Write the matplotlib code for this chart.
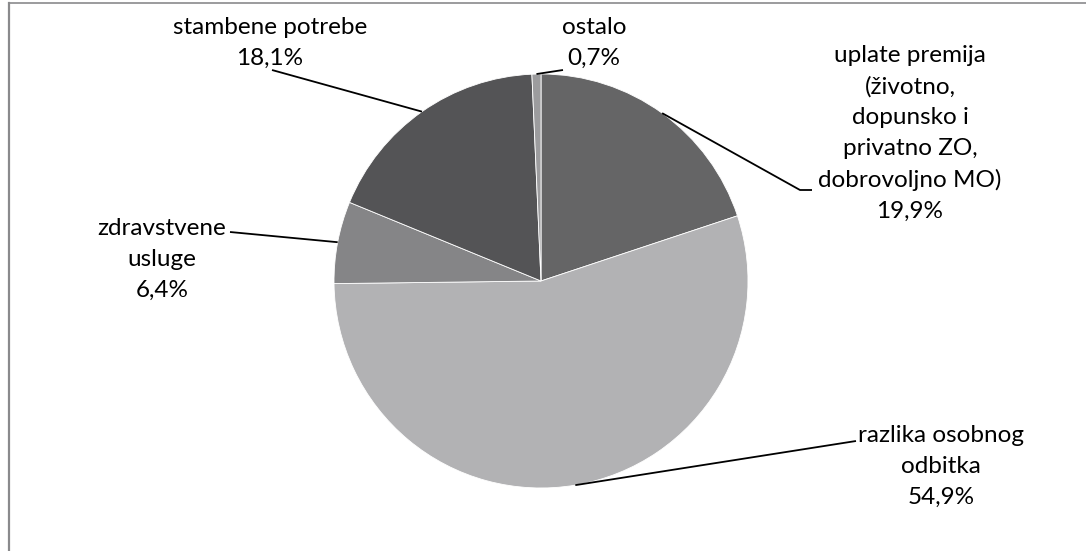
import numpy as np
import matplotlib
matplotlib.use("Agg")
import matplotlib.pyplot as plt
from matplotlib.lines import Line2D

# Data
categories = ["uplate premija\n(životno,\ndopunsko i\nprivatno ZO,\ndobrovoljno MO)",
              "razlika osobnog\nodbitka",
              "zdravstvene\nusluge",
              "stambene potrebe",
              "ostalo"]
values = [19.9, 54.9, 6.4, 18.1, 0.7]
pct_labels = ["19,9%", "54,9%", "6,4%", "18,1%", "0,7%"]
colors = ["#656566", "#b2b2b4", "#858587", "#545456", "#9c9c9e"]

W, H = 1086, 551
fig = plt.figure(figsize=(W / 100, H / 100), dpi=100)
ax = fig.add_axes([0, 0, 1, 1])

cx, cy, R = 541, H - 281, 207
wedges, _ = ax.pie(values, colors=colors, startangle=90, counterclock=False,
                   center=(cx, cy), radius=R, frame=True,
                   wedgeprops=dict(edgecolor="white", linewidth=0.6))
ax.set_xlim(0, W)
ax.set_ylim(0, H)
ax.axis("off")

plt.rcParams['font.family'] = ['Lato', 'DejaVu Sans']
fs = 17.5

# label layout: text center x, first-line center y (px), leader points (px)
layout = [
    dict(x=910, y=57, end=[(800, 190), (812, 190)]),
    dict(x=941, y=437, end=[(856, 441)]),
    dict(x=162, y=230, end=[(230, 232)]),
    dict(x=270, y=29, end=[(272, 70)]),
    dict(x=594, y=29, end=[(563, 70)]),
]

for w, lab, pl, lay in zip(wedges, categories, pct_labels, layout):
    mid = np.deg2rad((w.theta1 + w.theta2) / 2)
    px = cx + R * np.cos(mid)
    py = cy + R * np.sin(mid)
    xs = [px] + [p[0] for p in lay["end"]]
    ys = [py] + [H - p[1] for p in lay["end"]]
    ax.plot(xs, ys, color="black", lw=1.3, solid_capstyle="butt")
    ax.text(lay["x"], H - lay["y"] + 12, lab + "\n" + pl, ha="center", va="top",
            fontsize=fs, linespacing=1.57, color="black")

# frame lines (left and top)
fig.add_artist(Line2D([9 / W, 9 / W], [0, 1 - 3 / H], color="#8a8a8c", lw=1.6,
                      transform=fig.transFigure))
fig.add_artist(Line2D([9 / W, 1], [1 - 3 / H, 1 - 3 / H], color="#8a8a8c", lw=1.2,
                      transform=fig.transFigure))

fig.savefig("out.png", dpi=100, facecolor="white")
